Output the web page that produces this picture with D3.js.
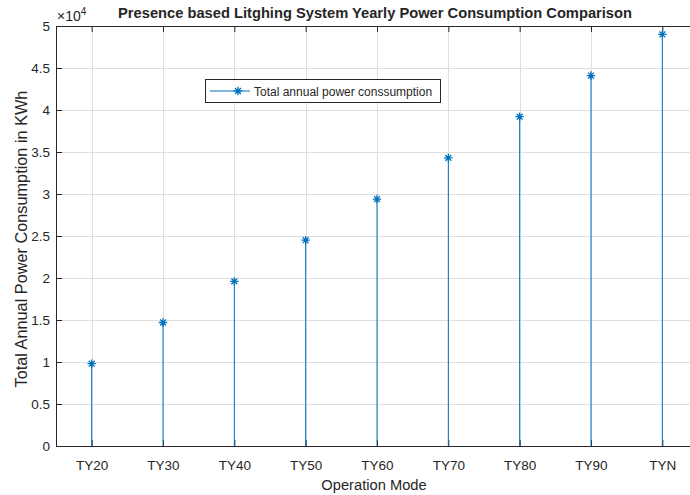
<!DOCTYPE html>
<meta charset="utf-8">
<style>
  body { margin: 0; background: #fff; }
  svg text { font-family: "Liberation Sans", Arial, sans-serif; fill: #262626; }
  .grid line { stroke: #dfdfdf; stroke-width: 1px; }
  .stem { stroke: #0072bd; stroke-width: 1px; }
  .mark { stroke: #0072bd; stroke-width: 1.3px; }
</style>
<svg width="690" height="495"></svg>
<script src="https://d3js.org/d3.v7.min.js"></script>
<script>

var modes = ["TY20", "TY30", "TY40", "TY50", "TY60", "TY70", "TY80", "TY90", "TYN"];
var power = [9800, 14700, 19600, 24500, 29400, 34300, 39200, 44100, 49000];
var yTicks = [0, 5000, 10000, 15000, 20000, 25000, 30000, 35000, 40000, 45000, 50000];

var svg = d3.select("svg"),
    margin = { top: 26, right: -8, bottom: 49, left: 56 },
    width = +svg.attr("width") - margin.left - margin.right,
    height = +svg.attr("height") - margin.top - margin.bottom,
    g = svg.append("g").attr("transform", "translate(" + margin.left + "," + margin.top + ")");

var x = d3.scaleLinear()
    .domain([0.5, modes.length + 0.5])
    .range([0, width]);

var y = d3.scaleLinear()
    .domain([0, 50000])
    .range([height, 0]);

// grid
var grid = g.append("g").attr("class", "grid");
grid.selectAll(".gx")
    .data(modes)
    .enter().append("line")
    .attr("x1", (d, i) => Math.round(x(i + 1)) + 0.5)
    .attr("x2", (d, i) => Math.round(x(i + 1)) + 0.5)
    .attr("y1", 0)
    .attr("y2", height);
grid.selectAll(".gy")
    .data(yTicks)
    .enter().append("line")
    .attr("x1", 0)
    .attr("x2", width)
    .attr("y1", d => Math.round(y(d)) + 0.5)
    .attr("y2", d => Math.round(y(d)) + 0.5);

// axes, MATLAB style: ticks inside, box on
var xb = d3.axisBottom(x)
    .tickValues(d3.range(1, modes.length + 1))
    .tickFormat(d => modes[d - 1])
    .tickSizeInner(-6).tickSizeOuter(0).tickPadding(14);
var xt = d3.axisTop(x)
    .tickValues(d3.range(1, modes.length + 1))
    .tickFormat("")
    .tickSizeInner(-6).tickSizeOuter(0);
var yl = d3.axisLeft(y)
    .tickValues(yTicks)
    .tickFormat(d => d3.format("~g")(d / 10000))
    .tickSizeInner(-6).tickSizeOuter(0).tickPadding(6);

function styleAxis(s) {
    s.select(".domain").attr("stroke", "#262626");
    s.selectAll(".tick line").attr("stroke", "#262626");
    s.selectAll("text").style("font-size", "13.5px").attr("fill", "#262626");
}

g.append("g").attr("transform", "translate(0," + height + ")").call(xb).call(styleAxis);
g.append("g").call(xt).call(styleAxis);
g.append("g").call(yl).call(styleAxis);

// stems
g.selectAll(".stem")
    .data(power)
    .enter().append("line")
    .attr("class", "stem")
    .attr("x1", (d, i) => x(i + 1))
    .attr("x2", (d, i) => x(i + 1))
    .attr("y1", y(0))
    .attr("y2", d => y(d));

// asterisk markers
function asterisk(sel, r) {
    var p = "M" + (-r) + ",0H" + r + "M0," + (-r) + "V" + r +
        "M" + (-r * 0.7) + "," + (-r * 0.7) + "L" + (r * 0.7) + "," + (r * 0.7) +
        "M" + (-r * 0.7) + "," + (r * 0.7) + "L" + (r * 0.7) + "," + (-r * 0.7);
    sel.attr("d", p);
}
g.selectAll(".mark")
    .data(power)
    .enter().append("path")
    .attr("class", "mark")
    .attr("fill", "none")
    .attr("transform", (d, i) => "translate(" + x(i + 1) + "," + y(d) + ")")
    .call(asterisk, 4.2);

// exponent
svg.append("text")
    .attr("x", margin.left + 1)
    .attr("y", 21)
    .style("font-size", "14px")
    .text("\u00d710")
    .append("tspan")
    .attr("dy", -6)
    .style("font-size", "10px")
    .text("4");

// title
svg.append("text")
    .attr("x", 375)
    .attr("y", 18)
    .attr("text-anchor", "middle")
    .style("font-size", "14.7px")
    .style("font-weight", "bold")
    .attr("fill", "#000")
    .text("Presence based Litghing System Yearly Power Consumption Comparison");

// axis labels
svg.append("text")
    .attr("x", 374)
    .attr("y", 490)
    .attr("text-anchor", "middle")
    .style("font-size", "14.7px")
    .text("Operation Mode");

svg.append("text")
    .attr("transform", "translate(27," + (margin.top + height / 2 + 3) + ") rotate(-90)")
    .attr("text-anchor", "middle")
    .style("font-size", "16.3px")
    .text("Total Annual Power Consumption in KWh");

// legend
var lg = svg.append("g").attr("transform", "translate(205,79)");
lg.append("rect")
    .attr("x", 0.5).attr("y", 0.5)
    .attr("width", 235).attr("height", 23)
    .attr("fill", "#fff")
    .attr("stroke", "#262626");
lg.append("line")
    .attr("class", "stem")
    .attr("x1", 5).attr("x2", 45)
    .attr("y1", 12).attr("y2", 12);
lg.append("path")
    .attr("class", "mark")
    .attr("fill", "none")
    .attr("transform", "translate(33,12)")
    .call(asterisk, 4.2);
lg.append("text")
    .attr("x", 49)
    .attr("y", 16.5)
    .style("font-size", "12px")
    .attr("fill", "#000")
    .text("Total annual power conssumption");

</script>
